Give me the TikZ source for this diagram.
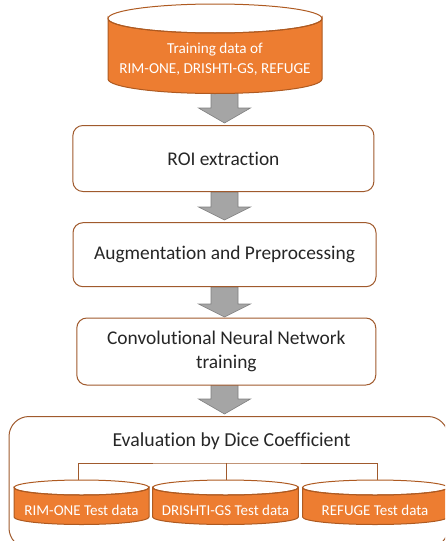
\documentclass[tikz,border=0pt]{standalone}
\usepackage{fontspec}
\setmainfont{Carlito}[Ligatures={NoCommon}]
\definecolor{boxline}{RGB}{160,90,45}
\definecolor{cylfill}{RGB}{237,125,49}
\definecolor{cylline}{RGB}{174,90,33}
\definecolor{arrfill}{RGB}{165,165,165}
\definecolor{arrline}{RGB}{127,127,127}
\tikzset{
  stepbox/.style={draw=boxline, line width=1pt, rounded corners=10pt, fill=white, align=center,
    font=\fontsize{19.4}{24}\selectfont, text=black!85, inner sep=0pt},
  cyltext/.style={text=white, align=center, inner sep=0pt},
  blockarrow/.style={fill=arrfill, draw=arrline, line width=0.6pt, line join=miter},
  treeline/.style={draw=boxline, line width=1pt}
}
% cylinder: #1 cx, #2 top-ellipse centre y, #3 bottom centre y, #4 rx, #5 ry (y values positive downward)
\newcommand\mycyl[5]{%
  \filldraw[fill=cylfill, draw=cylline, line width=1pt]
    (#1-#4, -#2) -- (#1-#4, -#3)
    arc[start angle=180, end angle=360, x radius=#4pt, y radius=#5pt]
    -- (#1+#4, -#2)
    arc[start angle=0, end angle=-180, x radius=#4pt, y radius=#5pt] -- cycle;
  \draw[draw=cylline, line width=1pt] (#1, -#2) ellipse[x radius=#4pt, y radius=#5pt];
}
% block arrow: #1 cx, #2 top, #3 head start, #4 tip
\newcommand\myarrow[4]{%
  \draw[blockarrow] (#1-13.5, -#2) -- (#1-13.5, -#3) -- (#1-26, -#3) -- (#1, -#4)
    -- (#1+26, -#3) -- (#1+13.5, -#3) -- (#1+13.5, -#2) -- cycle;
}
\begin{document}
\begin{tikzpicture}[x=1pt, y=1pt]
\useasboundingbox (0,0) rectangle (445,-541);
\clip (0,0) rectangle (445,-541);
% arrows (behind)
\myarrow{224.5}{93}{108}{123}
\myarrow{224.5}{192}{207}{220}
\myarrow{224.5}{287}{304}{317}
\myarrow{224.5}{385}{399}{414}
% top cylinder
\mycyl{215}{18.5}{79}{107}{14.5}
\node[cyltext, font=\fontsize{15.2}{20}\selectfont] (train) at (215,-59) {Training data of\\RIM-ONE, DRISHTI-GS, REFUGE};
% boxes
\node[stepbox, minimum width=301pt, minimum height=66pt] (roi) at (223.4,-158.5) {ROI extraction};
\node[stepbox, minimum width=303pt, minimum height=64pt] (aug) at (224.5,-254.7) {Augmentation and Preprocessing};
\node[stepbox, minimum width=299pt, minimum height=67pt] (cnn) at (226.3,-351.5) {Convolutional Neural Network\\training};
% evaluation frame
\draw[draw=boxline, line width=1pt, rounded corners=20pt] (9,-416.5) rectangle (448,-548);
\node[inner sep=0pt, font=\fontsize{19.8}{24}\selectfont, text=black!85] (eval) at (231.5,-441.5) {Evaluation by Dice Coefficient};
% test cylinders
\mycyl{81.5}{487.5}{517}{67.5}{7.5}
\mycyl{225.5}{487.5}{517}{72.8}{7.5}
\mycyl{375}{487.5}{517}{72.5}{7.5}
\node[cyltext, font=\fontsize{15}{18}\selectfont] (t1) at (81.5,-510) {RIM-ONE Test data};
\node[cyltext, font=\fontsize{15}{18}\selectfont] (t2) at (225.5,-510) {DRISHTI-GS Test data};
\node[cyltext, font=\fontsize{15}{18}\selectfont] (t3) at (375,-510) {REFUGE Test data};
% tree
\coordinate (c1) at (78,-480);
\coordinate (c2) at (226,-480);
\coordinate (c3) at (377,-480);
\coordinate (hub) at (226,-463);
\draw[treeline] (c1) |- (hub) -| (c3);
\draw[treeline] (hub) -- (c2);
\end{tikzpicture}
\end{document}
